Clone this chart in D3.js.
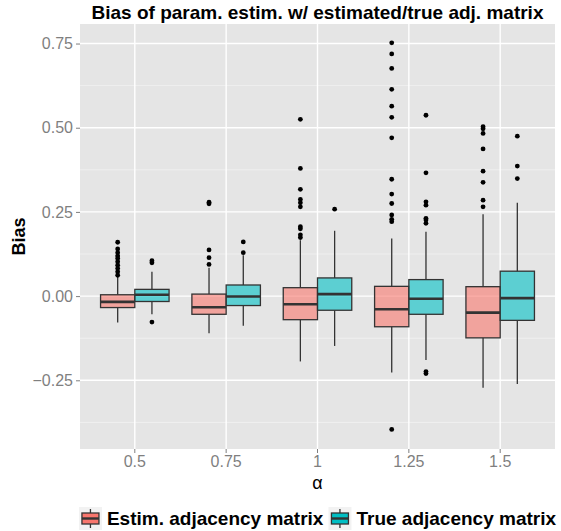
<!DOCTYPE html>
<meta charset="utf-8">
<style>
    body { margin: 0; background: #fff; }
    svg { display: block; }
</style>
<svg width="561" height="531" font-family="'Liberation Sans', Arial, sans-serif"></svg>
<script src="https://cdn.jsdelivr.net/npm/d3@7"></script>
<script>

    // categories and series
    var alphas = ["0.5", "0.75", "1", "1.25", "1.5"];
    var seriesNames = ["Estim. adjacency matrix", "True adjacency matrix"];
    var seriesColors = ["#F8766D", "#00BFC4"];
    var yTicks = [-0.25, 0, 0.25, 0.5, 0.75];
    var yMinor = [-0.375, -0.125, 0.125, 0.375, 0.625];

    // estimated adjacency matrix
    var estLower = [-0.078, -0.110, -0.194, -0.227, -0.272];
    var estQ1 = [-0.034, -0.054, -0.070, -0.091, -0.124];
    var estMedian = [-0.017, -0.033, -0.024, -0.039, -0.049];
    var estQ3 = [0.004, 0.006, 0.025, 0.029, 0.028];
    var estUpper = [0.057, 0.084, 0.166, 0.171, 0.243];
    var estOutliers = [
        [0.062, 0.072, 0.082, 0.092, 0.102, 0.112, 0.119, 0.129, 0.140, 0.160],
        [0.094, 0.114, 0.137, 0.274, 0.279],
        [0.174, 0.182, 0.200, 0.206, 0.265, 0.277, 0.287, 0.317, 0.379, 0.525],
        [-0.396, 0.221, 0.228, 0.241, 0.275, 0.303, 0.347, 0.470, 0.531, 0.564, 0.614, 0.676, 0.719, 0.752],
        [0.265, 0.285, 0.338, 0.371, 0.437, 0.483, 0.497, 0.503]
    ];

    // true adjacency matrix
    var trueLower = [-0.054, -0.088, -0.148, -0.190, -0.261];
    var trueQ1 = [-0.016, -0.028, -0.042, -0.054, -0.072];
    var trueMedian = [0.004, -0.001, 0.006, -0.008, -0.006];
    var trueQ3 = [0.020, 0.033, 0.054, 0.049, 0.074];
    var trueUpper = [0.072, 0.121, 0.194, 0.191, 0.277];
    var trueOutliers = [
        [-0.077, 0.099, 0.105],
        [0.129, 0.161],
        [0.258],
        [-0.230, -0.224, 0.216, 0.226, 0.231, 0.270, 0.280, 0.366, 0.537],
        [0.349, 0.386, 0.475]
    ];

    var boxes = [];
    alphas.forEach(function (a, i) {
        boxes.push({ alpha: a, series: seriesNames[0], lower: estLower[i], q1: estQ1[i], median: estMedian[i], q3: estQ3[i], upper: estUpper[i], outliers: estOutliers[i] });
        boxes.push({ alpha: a, series: seriesNames[1], lower: trueLower[i], q1: trueQ1[i], median: trueMedian[i], q3: trueQ3[i], upper: trueUpper[i], outliers: trueOutliers[i] });
    });

    var svg = d3.select("svg"),
        pLeft = 80, pRight = 555, pTop = 24, pBottom = 449;

    var x = d3.scaleBand()
        .domain(alphas)
        .range([pLeft, pRight])
        .paddingInner(0)
        .paddingOuter(0.1);

    var dodge = x.step() * 0.75;
    var xs = d3.scaleBand()
        .domain(seriesNames)
        .range([-dodge / 2, dodge / 2]);

    var y = d3.scaleLinear()
        .domain([-0.454, 0.808])
        .range([pBottom, pTop]);

    var color = d3.scaleOrdinal().domain(seriesNames).range(seriesColors);

    // panel
    svg.append("rect")
        .attr("x", pLeft).attr("y", pTop)
        .attr("width", pRight - pLeft).attr("height", pBottom - pTop)
        .attr("fill", "#E5E5E5");

    svg.append("g").selectAll("line")
        .data(yMinor)
        .enter().append("line")
        .attr("x1", pLeft).attr("x2", pRight)
        .attr("y1", y).attr("y2", y)
        .attr("stroke", "#F2F2F2").attr("stroke-width", 0.8);

    svg.append("g").selectAll("line")
        .data(yTicks)
        .enter().append("line")
        .attr("x1", pLeft).attr("x2", pRight)
        .attr("y1", y).attr("y2", y)
        .attr("stroke", "#fff").attr("stroke-width", 1.4);

    svg.append("g").selectAll("line")
        .data(alphas)
        .enter().append("line")
        .attr("x1", function (d) { return x(d) + x.bandwidth() / 2; })
        .attr("x2", function (d) { return x(d) + x.bandwidth() / 2; })
        .attr("y1", pTop).attr("y2", pBottom)
        .attr("stroke", "#fff").attr("stroke-width", 1.4);

    // axes
    var yAxis = svg.append("g")
        .attr("transform", "translate(" + pLeft + ",0)")
        .call(d3.axisLeft(y).tickValues(yTicks).tickSize(4).tickPadding(3)
            .tickFormat(function (d) { return d3.format(".2f")(d).replace("-", "\u2212"); }));
    yAxis.select(".domain").remove();
    yAxis.selectAll("line").attr("stroke", "#7F7F7F");
    yAxis.selectAll("text").attr("fill", "#7F7F7F").attr("font-size", 16).attr("font-family", null);

    var xAxis = svg.append("g")
        .attr("transform", "translate(0," + pBottom + ")")
        .call(d3.axisBottom(x).tickSize(4).tickPadding(3));
    xAxis.select(".domain").remove();
    xAxis.selectAll("line").attr("stroke", "#7F7F7F");
    xAxis.selectAll("text").attr("fill", "#7F7F7F").attr("font-size", 16).attr("font-family", null);

    // boxes
    var bw = xs.bandwidth();
    var g = svg.append("g").selectAll("g")
        .data(boxes)
        .enter().append("g")
        .attr("transform", function (d) { return "translate(" + (x(d.alpha) + x.bandwidth() / 2 + xs(d.series)) + ",0)"; });

    g.append("line")
        .attr("x1", bw / 2).attr("x2", bw / 2)
        .attr("y1", function (d) { return y(d.upper); })
        .attr("y2", function (d) { return y(d.q3); })
        .attr("stroke", "#333").attr("stroke-width", 1.3);

    g.append("line")
        .attr("x1", bw / 2).attr("x2", bw / 2)
        .attr("y1", function (d) { return y(d.q1); })
        .attr("y2", function (d) { return y(d.lower); })
        .attr("stroke", "#333").attr("stroke-width", 1.3);

    g.append("rect")
        .attr("x", 0).attr("width", bw)
        .attr("y", function (d) { return y(d.q3); })
        .attr("height", function (d) { return y(d.q1) - y(d.q3); })
        .attr("fill", function (d) { return color(d.series); })
        .attr("fill-opacity", 0.6)
        .attr("stroke", "#333").attr("stroke-width", 1.3);

    g.append("line")
        .attr("x1", 0).attr("x2", bw)
        .attr("y1", function (d) { return y(d.median); })
        .attr("y2", function (d) { return y(d.median); })
        .attr("stroke", "#333").attr("stroke-width", 2.6);

    g.selectAll("circle")
        .data(function (d) { return d.outliers; })
        .enter().append("circle")
        .attr("cx", bw / 2)
        .attr("cy", y)
        .attr("r", 2.4)
        .attr("fill", "#000");

    // titles
    svg.append("text")
        .attr("x", (pLeft + pRight) / 2).attr("y", 19)
        .attr("text-anchor", "middle")
        .attr("font-size", 19).attr("font-weight", "bold")
        .text("Bias of param. estim. w/ estimated/true adj. matrix");

    svg.append("text")
        .attr("transform", "translate(25," + (pTop + pBottom) / 2 + ")rotate(-90)")
        .attr("text-anchor", "middle")
        .attr("font-size", 18).attr("font-weight", "bold")
        .text("Bias");

    svg.append("text")
        .attr("x", (pLeft + pRight) / 2).attr("y", 489)
        .attr("text-anchor", "middle")
        .attr("font-size", 18)
        .text("\u03B1");

    // legend
    var legend = svg.append("g");
    var ks = 23, ly = 507, lx = 0;
    seriesNames.forEach(function (s, i) {
        var item = legend.append("g").attr("transform", "translate(" + lx + "," + ly + ")");
        item.append("rect").attr("width", ks).attr("height", ks).attr("fill", "#F2F2F2");
        item.append("line").attr("x1", ks / 2).attr("x2", ks / 2).attr("y1", 2).attr("y2", ks - 2)
            .attr("stroke", "#333").attr("stroke-width", 1.3);
        item.append("rect").attr("x", 3).attr("y", 6).attr("width", ks - 6).attr("height", ks - 12)
            .attr("fill", color(s)).attr("stroke", "#333").attr("stroke-width", 1.3);
        item.append("line").attr("x1", 3).attr("x2", ks - 3).attr("y1", ks / 2).attr("y2", ks / 2)
            .attr("stroke", "#333").attr("stroke-width", 2.4);
        var t = item.append("text")
            .attr("x", ks + 5).attr("y", ks / 2).attr("dy", "0.35em")
            .attr("font-size", 19).attr("font-weight", "bold")
            .text(s);
        lx += ks + 5 + t.node().getComputedTextLength() + 5;
    });
    var lw = lx - 5;
    legend.attr("transform", "translate(" + Math.min((pLeft + pRight) / 2 - lw / 2, 560 - lw) + ",0)");
</script>
